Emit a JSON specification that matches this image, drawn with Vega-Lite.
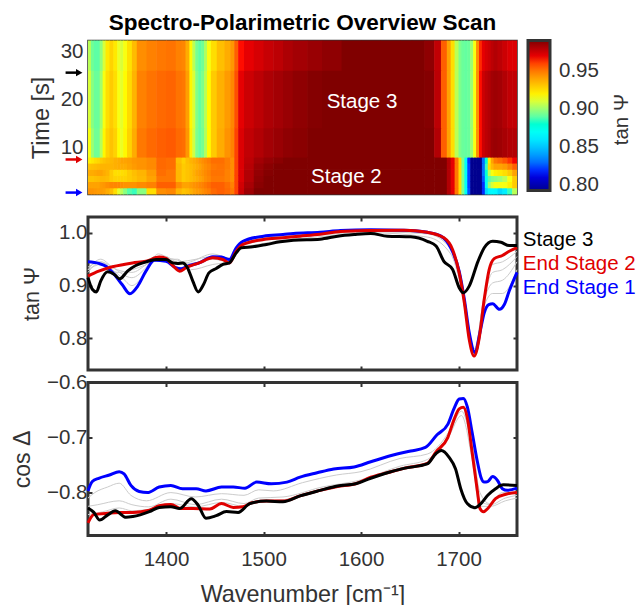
{"$schema":"https://vega.github.io/schema/vega-lite/v6.json","padding":{"left":9,"top":10.5,"right":0,"bottom":0},"spacing":-2.5,"config":{"font":"Liberation Sans","view":{"stroke":"#333","strokeWidth":3},"axis":{"grid":false,"domain":false,"labelFontSize":20.5,"titleFontSize":20,"labelColor":"#333","titleColor":"#333","tickColor":"#333","tickWidth":2,"tickSize":-4,"titleFontWeight":"normal","labelPadding":5}},
"datasets":{
"cols":[{"w":1320,"w2":1323.6},{"w":1323,"w2":1326.6},{"w":1326,"w2":1329.6},{"w":1329,"w2":1332.6},{"w":1332,"w2":1335.6},{"w":1335,"w2":1338.6},{"w":1338,"w2":1342.6},{"w":1342,"w2":1346.6},{"w":1346,"w2":1350.6},{"w":1350,"w2":1353.6},{"w":1353,"w2":1356.6},{"w":1356,"w2":1360.6},{"w":1360,"w2":1365.6},{"w":1365,"w2":1370.6},{"w":1370,"w2":1380.6},{"w":1380,"w2":1390.6},{"w":1390,"w2":1400.6},{"w":1400,"w2":1410.6},{"w":1410,"w2":1416.6},{"w":1416,"w2":1420.6},{"w":1420,"w2":1424.6},{"w":1424,"w2":1427.6},{"w":1427,"w2":1430.6},{"w":1430,"w2":1433.6},{"w":1433,"w2":1436.6},{"w":1436,"w2":1439.6},{"w":1439,"w2":1442.6},{"w":1442,"w2":1446.6},{"w":1446,"w2":1452.6},{"w":1452,"w2":1460.6},{"w":1460,"w2":1466.6},{"w":1466,"w2":1470.6},{"w":1470,"w2":1474.6},{"w":1474,"w2":1480.6},{"w":1480,"w2":1490.6},{"w":1490,"w2":1500.6},{"w":1500,"w2":1510.6},{"w":1510,"w2":1520.6},{"w":1520,"w2":1530.6},{"w":1530,"w2":1545.6},{"w":1545,"w2":1560.6},{"w":1560,"w2":1580.6},{"w":1580,"w2":1600.6},{"w":1600,"w2":1620.6},{"w":1620,"w2":1640.6},{"w":1640,"w2":1652.6},{"w":1652,"w2":1665.6},{"w":1665,"w2":1675.6},{"w":1675,"w2":1682.6},{"w":1682,"w2":1688.6},{"w":1688,"w2":1692.6},{"w":1692,"w2":1696.6},{"w":1696,"w2":1700.6},{"w":1700,"w2":1703.6},{"w":1703,"w2":1706.6},{"w":1706,"w2":1709.6},{"w":1709,"w2":1712.6},{"w":1712,"w2":1715.6},{"w":1715,"w2":1718.6},{"w":1718,"w2":1721.6},{"w":1721,"w2":1724.6},{"w":1724,"w2":1727.6},{"w":1727,"w2":1730.6},{"w":1730,"w2":1733.6},{"w":1733,"w2":1736.6},{"w":1736,"w2":1740.6},{"w":1740,"w2":1745.6},{"w":1745,"w2":1750.6},{"w":1750,"w2":1755.6},{"w":1755,"w2":1760}],
"rows":[{"t":0.2,"t2":1.65},{"t":1.5,"t2":2.95},{"t":2.8,"t2":4.2},{"t":4.05,"t2":5.5},{"t":5.35,"t2":6.8},{"t":6.65,"t2":8.05},{"t":7.9,"t2":14.15},{"t":14,"t2":26.15},{"t":26,"t2":32.3}],
"heat":[
{"w":1320,"t":0.2,"v":0.944},{"w":1323,"t":0.2,"v":0.944},{"w":1326,"t":0.2,"v":0.943},{"w":1329,"t":0.2,"v":0.942},{"w":1332,"t":0.2,"v":0.942},{"w":1335,"t":0.2,"v":0.941},{"w":1338,"t":0.2,"v":0.938},{"w":1342,"t":0.2,"v":0.934},{"w":1346,"t":0.2,"v":0.925},{"w":1350,"t":0.2,"v":0.912},{"w":1353,"t":0.2,"v":0.905},{"w":1356,"t":0.2,"v":0.897},{"w":1360,"t":0.2,"v":0.889},{"w":1365,"t":0.2,"v":0.885},{"w":1370,"t":0.2,"v":0.897},{"w":1380,"t":0.2,"v":0.925},{"w":1390,"t":0.2,"v":0.945},{"w":1400,"t":0.2,"v":0.947},{"w":1410,"t":0.2,"v":0.936},{"w":1416,"t":0.2,"v":0.932},{"w":1420,"t":0.2,"v":0.934},{"w":1424,"t":0.2,"v":0.937},{"w":1427,"t":0.2,"v":0.94},{"w":1430,"t":0.2,"v":0.942},{"w":1433,"t":0.2,"v":0.943},{"w":1436,"t":0.2,"v":0.945},{"w":1439,"t":0.2,"v":0.947},{"w":1442,"t":0.2,"v":0.949},{"w":1446,"t":0.2,"v":0.953},{"w":1452,"t":0.2,"v":0.955},{"w":1460,"t":0.2,"v":0.953},{"w":1466,"t":0.2,"v":0.95},{"w":1470,"t":0.2,"v":0.96},{"w":1474,"t":0.2,"v":0.975},{"w":1480,"t":0.2,"v":0.984},{"w":1490,"t":0.2,"v":0.99},{"w":1500,"t":0.2,"v":0.992},{"w":1510,"t":0.2,"v":0.994},{"w":1520,"t":0.2,"v":0.995},{"w":1530,"t":0.2,"v":0.996},{"w":1545,"t":0.2,"v":0.998},{"w":1560,"t":0.2,"v":1},{"w":1580,"t":0.2,"v":1},{"w":1600,"t":0.2,"v":1},{"w":1620,"t":0.2,"v":1},{"w":1640,"t":0.2,"v":1},{"w":1652,"t":0.2,"v":1},{"w":1665,"t":0.2,"v":1},{"w":1675,"t":0.2,"v":0.998},{"w":1682,"t":0.2,"v":0.993},{"w":1688,"t":0.2,"v":0.98},{"w":1692,"t":0.2,"v":0.97},{"w":1696,"t":0.2,"v":0.95},{"w":1700,"t":0.2,"v":0.925},{"w":1703,"t":0.2,"v":0.895},{"w":1706,"t":0.2,"v":0.87},{"w":1709,"t":0.2,"v":0.825},{"w":1712,"t":0.2,"v":0.79},{"w":1715,"t":0.2,"v":0.78},{"w":1718,"t":0.2,"v":0.78},{"w":1721,"t":0.2,"v":0.79},{"w":1724,"t":0.2,"v":0.82},{"w":1727,"t":0.2,"v":0.855},{"w":1730,"t":0.2,"v":0.865},{"w":1733,"t":0.2,"v":0.866},{"w":1736,"t":0.2,"v":0.865},{"w":1740,"t":0.2,"v":0.856},{"w":1745,"t":0.2,"v":0.862},{"w":1750,"t":0.2,"v":0.885},{"w":1755,"t":0.2,"v":0.905},
{"w":1320,"t":1.5,"v":0.94},{"w":1323,"t":1.5,"v":0.94},{"w":1326,"t":1.5,"v":0.94},{"w":1329,"t":1.5,"v":0.94},{"w":1332,"t":1.5,"v":0.942},{"w":1335,"t":1.5,"v":0.943},{"w":1338,"t":1.5,"v":0.945},{"w":1342,"t":1.5,"v":0.947},{"w":1346,"t":1.5,"v":0.947},{"w":1350,"t":1.5,"v":0.947},{"w":1353,"t":1.5,"v":0.945},{"w":1356,"t":1.5,"v":0.944},{"w":1360,"t":1.5,"v":0.944},{"w":1365,"t":1.5,"v":0.944},{"w":1370,"t":1.5,"v":0.946},{"w":1380,"t":1.5,"v":0.948},{"w":1390,"t":1.5,"v":0.955},{"w":1400,"t":1.5,"v":0.955},{"w":1410,"t":1.5,"v":0.945},{"w":1416,"t":1.5,"v":0.94},{"w":1420,"t":1.5,"v":0.94},{"w":1424,"t":1.5,"v":0.942},{"w":1427,"t":1.5,"v":0.944},{"w":1430,"t":1.5,"v":0.945},{"w":1433,"t":1.5,"v":0.947},{"w":1436,"t":1.5,"v":0.948},{"w":1439,"t":1.5,"v":0.95},{"w":1442,"t":1.5,"v":0.952},{"w":1446,"t":1.5,"v":0.955},{"w":1452,"t":1.5,"v":0.955},{"w":1460,"t":1.5,"v":0.952},{"w":1466,"t":1.5,"v":0.948},{"w":1470,"t":1.5,"v":0.96},{"w":1474,"t":1.5,"v":0.974},{"w":1480,"t":1.5,"v":0.982},{"w":1490,"t":1.5,"v":0.988},{"w":1500,"t":1.5,"v":0.991},{"w":1510,"t":1.5,"v":0.993},{"w":1520,"t":1.5,"v":0.994},{"w":1530,"t":1.5,"v":0.995},{"w":1545,"t":1.5,"v":0.997},{"w":1560,"t":1.5,"v":0.999},{"w":1580,"t":1.5,"v":1},{"w":1600,"t":1.5,"v":1},{"w":1620,"t":1.5,"v":1},{"w":1640,"t":1.5,"v":1},{"w":1652,"t":1.5,"v":1},{"w":1665,"t":1.5,"v":1},{"w":1675,"t":1.5,"v":0.998},{"w":1682,"t":1.5,"v":0.993},{"w":1688,"t":1.5,"v":0.98},{"w":1692,"t":1.5,"v":0.97},{"w":1696,"t":1.5,"v":0.95},{"w":1700,"t":1.5,"v":0.925},{"w":1703,"t":1.5,"v":0.895},{"w":1706,"t":1.5,"v":0.87},{"w":1709,"t":1.5,"v":0.822},{"w":1712,"t":1.5,"v":0.79},{"w":1715,"t":1.5,"v":0.78},{"w":1718,"t":1.5,"v":0.78},{"w":1721,"t":1.5,"v":0.79},{"w":1724,"t":1.5,"v":0.82},{"w":1727,"t":1.5,"v":0.87},{"w":1730,"t":1.5,"v":0.9},{"w":1733,"t":1.5,"v":0.91},{"w":1736,"t":1.5,"v":0.915},{"w":1740,"t":1.5,"v":0.915},{"w":1745,"t":1.5,"v":0.915},{"w":1750,"t":1.5,"v":0.92},{"w":1755,"t":1.5,"v":0.93},
{"w":1320,"t":2.8,"v":0.932},{"w":1323,"t":2.8,"v":0.932},{"w":1326,"t":2.8,"v":0.933},{"w":1329,"t":2.8,"v":0.934},{"w":1332,"t":2.8,"v":0.935},{"w":1335,"t":2.8,"v":0.935},{"w":1338,"t":2.8,"v":0.934},{"w":1342,"t":2.8,"v":0.93},{"w":1346,"t":2.8,"v":0.928},{"w":1350,"t":2.8,"v":0.928},{"w":1353,"t":2.8,"v":0.928},{"w":1356,"t":2.8,"v":0.928},{"w":1360,"t":2.8,"v":0.93},{"w":1365,"t":2.8,"v":0.932},{"w":1370,"t":2.8,"v":0.935},{"w":1380,"t":2.8,"v":0.94},{"w":1390,"t":2.8,"v":0.95},{"w":1400,"t":2.8,"v":0.95},{"w":1410,"t":2.8,"v":0.935},{"w":1416,"t":2.8,"v":0.93},{"w":1420,"t":2.8,"v":0.932},{"w":1424,"t":2.8,"v":0.934},{"w":1427,"t":2.8,"v":0.936},{"w":1430,"t":2.8,"v":0.938},{"w":1433,"t":2.8,"v":0.94},{"w":1436,"t":2.8,"v":0.942},{"w":1439,"t":2.8,"v":0.945},{"w":1442,"t":2.8,"v":0.947},{"w":1446,"t":2.8,"v":0.95},{"w":1452,"t":2.8,"v":0.95},{"w":1460,"t":2.8,"v":0.948},{"w":1466,"t":2.8,"v":0.945},{"w":1470,"t":2.8,"v":0.96},{"w":1474,"t":2.8,"v":0.972},{"w":1480,"t":2.8,"v":0.98},{"w":1490,"t":2.8,"v":0.987},{"w":1500,"t":2.8,"v":0.99},{"w":1510,"t":2.8,"v":0.992},{"w":1520,"t":2.8,"v":0.994},{"w":1530,"t":2.8,"v":0.995},{"w":1545,"t":2.8,"v":0.997},{"w":1560,"t":2.8,"v":0.998},{"w":1580,"t":2.8,"v":1},{"w":1600,"t":2.8,"v":1},{"w":1620,"t":2.8,"v":1},{"w":1640,"t":2.8,"v":1},{"w":1652,"t":2.8,"v":1},{"w":1665,"t":2.8,"v":1},{"w":1675,"t":2.8,"v":0.998},{"w":1682,"t":2.8,"v":0.993},{"w":1688,"t":2.8,"v":0.98},{"w":1692,"t":2.8,"v":0.97},{"w":1696,"t":2.8,"v":0.95},{"w":1700,"t":2.8,"v":0.925},{"w":1703,"t":2.8,"v":0.895},{"w":1706,"t":2.8,"v":0.87},{"w":1709,"t":2.8,"v":0.822},{"w":1712,"t":2.8,"v":0.79},{"w":1715,"t":2.8,"v":0.78},{"w":1718,"t":2.8,"v":0.78},{"w":1721,"t":2.8,"v":0.79},{"w":1724,"t":2.8,"v":0.825},{"w":1727,"t":2.8,"v":0.872},{"w":1730,"t":2.8,"v":0.89},{"w":1733,"t":2.8,"v":0.895},{"w":1736,"t":2.8,"v":0.897},{"w":1740,"t":2.8,"v":0.9},{"w":1745,"t":2.8,"v":0.905},{"w":1750,"t":2.8,"v":0.915},{"w":1755,"t":2.8,"v":0.93},
{"w":1320,"t":4.05,"v":0.938},{"w":1323,"t":4.05,"v":0.938},{"w":1326,"t":4.05,"v":0.939},{"w":1329,"t":4.05,"v":0.94},{"w":1332,"t":4.05,"v":0.94},{"w":1335,"t":4.05,"v":0.938},{"w":1338,"t":4.05,"v":0.936},{"w":1342,"t":4.05,"v":0.93},{"w":1346,"t":4.05,"v":0.925},{"w":1350,"t":4.05,"v":0.925},{"w":1353,"t":4.05,"v":0.925},{"w":1356,"t":4.05,"v":0.926},{"w":1360,"t":4.05,"v":0.93},{"w":1365,"t":4.05,"v":0.933},{"w":1370,"t":4.05,"v":0.936},{"w":1380,"t":4.05,"v":0.942},{"w":1390,"t":4.05,"v":0.952},{"w":1400,"t":4.05,"v":0.95},{"w":1410,"t":4.05,"v":0.935},{"w":1416,"t":4.05,"v":0.93},{"w":1420,"t":4.05,"v":0.932},{"w":1424,"t":4.05,"v":0.934},{"w":1427,"t":4.05,"v":0.937},{"w":1430,"t":4.05,"v":0.94},{"w":1433,"t":4.05,"v":0.942},{"w":1436,"t":4.05,"v":0.944},{"w":1439,"t":4.05,"v":0.946},{"w":1442,"t":4.05,"v":0.948},{"w":1446,"t":4.05,"v":0.951},{"w":1452,"t":4.05,"v":0.951},{"w":1460,"t":4.05,"v":0.948},{"w":1466,"t":4.05,"v":0.945},{"w":1470,"t":4.05,"v":0.96},{"w":1474,"t":4.05,"v":0.972},{"w":1480,"t":4.05,"v":0.98},{"w":1490,"t":4.05,"v":0.986},{"w":1500,"t":4.05,"v":0.989},{"w":1510,"t":4.05,"v":0.991},{"w":1520,"t":4.05,"v":0.993},{"w":1530,"t":4.05,"v":0.994},{"w":1545,"t":4.05,"v":0.996},{"w":1560,"t":4.05,"v":0.998},{"w":1580,"t":4.05,"v":1},{"w":1600,"t":4.05,"v":1},{"w":1620,"t":4.05,"v":1},{"w":1640,"t":4.05,"v":1},{"w":1652,"t":4.05,"v":1},{"w":1665,"t":4.05,"v":1},{"w":1675,"t":4.05,"v":0.998},{"w":1682,"t":4.05,"v":0.993},{"w":1688,"t":4.05,"v":0.98},{"w":1692,"t":4.05,"v":0.97},{"w":1696,"t":4.05,"v":0.95},{"w":1700,"t":4.05,"v":0.925},{"w":1703,"t":4.05,"v":0.895},{"w":1706,"t":4.05,"v":0.87},{"w":1709,"t":4.05,"v":0.822},{"w":1712,"t":4.05,"v":0.79},{"w":1715,"t":4.05,"v":0.78},{"w":1718,"t":4.05,"v":0.78},{"w":1721,"t":4.05,"v":0.79},{"w":1724,"t":4.05,"v":0.83},{"w":1727,"t":4.05,"v":0.88},{"w":1730,"t":4.05,"v":0.905},{"w":1733,"t":4.05,"v":0.915},{"w":1736,"t":4.05,"v":0.92},{"w":1740,"t":4.05,"v":0.922},{"w":1745,"t":4.05,"v":0.925},{"w":1750,"t":4.05,"v":0.93},{"w":1755,"t":4.05,"v":0.94},
{"w":1320,"t":5.35,"v":0.932},{"w":1323,"t":5.35,"v":0.933},{"w":1326,"t":5.35,"v":0.934},{"w":1329,"t":5.35,"v":0.935},{"w":1332,"t":5.35,"v":0.936},{"w":1335,"t":5.35,"v":0.936},{"w":1338,"t":5.35,"v":0.936},{"w":1342,"t":5.35,"v":0.936},{"w":1346,"t":5.35,"v":0.937},{"w":1350,"t":5.35,"v":0.938},{"w":1353,"t":5.35,"v":0.938},{"w":1356,"t":5.35,"v":0.938},{"w":1360,"t":5.35,"v":0.94},{"w":1365,"t":5.35,"v":0.942},{"w":1370,"t":5.35,"v":0.944},{"w":1380,"t":5.35,"v":0.946},{"w":1390,"t":5.35,"v":0.953},{"w":1400,"t":5.35,"v":0.952},{"w":1410,"t":5.35,"v":0.935},{"w":1416,"t":5.35,"v":0.93},{"w":1420,"t":5.35,"v":0.932},{"w":1424,"t":5.35,"v":0.934},{"w":1427,"t":5.35,"v":0.936},{"w":1430,"t":5.35,"v":0.938},{"w":1433,"t":5.35,"v":0.94},{"w":1436,"t":5.35,"v":0.943},{"w":1439,"t":5.35,"v":0.945},{"w":1442,"t":5.35,"v":0.947},{"w":1446,"t":5.35,"v":0.95},{"w":1452,"t":5.35,"v":0.951},{"w":1460,"t":5.35,"v":0.949},{"w":1466,"t":5.35,"v":0.945},{"w":1470,"t":5.35,"v":0.96},{"w":1474,"t":5.35,"v":0.972},{"w":1480,"t":5.35,"v":0.979},{"w":1490,"t":5.35,"v":0.985},{"w":1500,"t":5.35,"v":0.988},{"w":1510,"t":5.35,"v":0.99},{"w":1520,"t":5.35,"v":0.992},{"w":1530,"t":5.35,"v":0.993},{"w":1545,"t":5.35,"v":0.995},{"w":1560,"t":5.35,"v":0.997},{"w":1580,"t":5.35,"v":1},{"w":1600,"t":5.35,"v":1},{"w":1620,"t":5.35,"v":1},{"w":1640,"t":5.35,"v":1},{"w":1652,"t":5.35,"v":1},{"w":1665,"t":5.35,"v":1},{"w":1675,"t":5.35,"v":0.998},{"w":1682,"t":5.35,"v":0.993},{"w":1688,"t":5.35,"v":0.98},{"w":1692,"t":5.35,"v":0.97},{"w":1696,"t":5.35,"v":0.95},{"w":1700,"t":5.35,"v":0.925},{"w":1703,"t":5.35,"v":0.895},{"w":1706,"t":5.35,"v":0.87},{"w":1709,"t":5.35,"v":0.822},{"w":1712,"t":5.35,"v":0.79},{"w":1715,"t":5.35,"v":0.78},{"w":1718,"t":5.35,"v":0.78},{"w":1721,"t":5.35,"v":0.79},{"w":1724,"t":5.35,"v":0.83},{"w":1727,"t":5.35,"v":0.885},{"w":1730,"t":5.35,"v":0.925},{"w":1733,"t":5.35,"v":0.935},{"w":1736,"t":5.35,"v":0.94},{"w":1740,"t":5.35,"v":0.94},{"w":1745,"t":5.35,"v":0.942},{"w":1750,"t":5.35,"v":0.948},{"w":1755,"t":5.35,"v":0.955},
{"w":1320,"t":6.65,"v":0.92},{"w":1323,"t":6.65,"v":0.922},{"w":1326,"t":6.65,"v":0.925},{"w":1329,"t":6.65,"v":0.927},{"w":1332,"t":6.65,"v":0.93},{"w":1335,"t":6.65,"v":0.932},{"w":1338,"t":6.65,"v":0.934},{"w":1342,"t":6.65,"v":0.935},{"w":1346,"t":6.65,"v":0.937},{"w":1350,"t":6.65,"v":0.938},{"w":1353,"t":6.65,"v":0.94},{"w":1356,"t":6.65,"v":0.94},{"w":1360,"t":6.65,"v":0.941},{"w":1365,"t":6.65,"v":0.943},{"w":1370,"t":6.65,"v":0.944},{"w":1380,"t":6.65,"v":0.946},{"w":1390,"t":6.65,"v":0.953},{"w":1400,"t":6.65,"v":0.952},{"w":1410,"t":6.65,"v":0.933},{"w":1416,"t":6.65,"v":0.928},{"w":1420,"t":6.65,"v":0.933},{"w":1424,"t":6.65,"v":0.936},{"w":1427,"t":6.65,"v":0.938},{"w":1430,"t":6.65,"v":0.94},{"w":1433,"t":6.65,"v":0.943},{"w":1436,"t":6.65,"v":0.945},{"w":1439,"t":6.65,"v":0.947},{"w":1442,"t":6.65,"v":0.949},{"w":1446,"t":6.65,"v":0.952},{"w":1452,"t":6.65,"v":0.952},{"w":1460,"t":6.65,"v":0.949},{"w":1466,"t":6.65,"v":0.945},{"w":1470,"t":6.65,"v":0.96},{"w":1474,"t":6.65,"v":0.972},{"w":1480,"t":6.65,"v":0.978},{"w":1490,"t":6.65,"v":0.983},{"w":1500,"t":6.65,"v":0.986},{"w":1510,"t":6.65,"v":0.988},{"w":1520,"t":6.65,"v":0.99},{"w":1530,"t":6.65,"v":0.992},{"w":1545,"t":6.65,"v":0.994},{"w":1560,"t":6.65,"v":0.996},{"w":1580,"t":6.65,"v":1},{"w":1600,"t":6.65,"v":1},{"w":1620,"t":6.65,"v":1},{"w":1640,"t":6.65,"v":1},{"w":1652,"t":6.65,"v":1},{"w":1665,"t":6.65,"v":1},{"w":1675,"t":6.65,"v":0.998},{"w":1682,"t":6.65,"v":0.993},{"w":1688,"t":6.65,"v":0.98},{"w":1692,"t":6.65,"v":0.97},{"w":1696,"t":6.65,"v":0.95},{"w":1700,"t":6.65,"v":0.925},{"w":1703,"t":6.65,"v":0.895},{"w":1706,"t":6.65,"v":0.868},{"w":1709,"t":6.65,"v":0.82},{"w":1712,"t":6.65,"v":0.785},{"w":1715,"t":6.65,"v":0.77},{"w":1718,"t":6.65,"v":0.77},{"w":1721,"t":6.65,"v":0.785},{"w":1724,"t":6.65,"v":0.83},{"w":1727,"t":6.65,"v":0.88},{"w":1730,"t":6.65,"v":0.92},{"w":1733,"t":6.65,"v":0.94},{"w":1736,"t":6.65,"v":0.95},{"w":1740,"t":6.65,"v":0.953},{"w":1745,"t":6.65,"v":0.957},{"w":1750,"t":6.65,"v":0.962},{"w":1755,"t":6.65,"v":0.968},
{"w":1320,"t":7.9,"v":0.915},{"w":1323,"t":7.9,"v":0.9},{"w":1326,"t":7.9,"v":0.893},{"w":1329,"t":7.9,"v":0.893},{"w":1332,"t":7.9,"v":0.904},{"w":1335,"t":7.9,"v":0.918},{"w":1338,"t":7.9,"v":0.928},{"w":1342,"t":7.9,"v":0.932},{"w":1346,"t":7.9,"v":0.928},{"w":1350,"t":7.9,"v":0.917},{"w":1353,"t":7.9,"v":0.913},{"w":1356,"t":7.9,"v":0.918},{"w":1360,"t":7.9,"v":0.928},{"w":1365,"t":7.9,"v":0.938},{"w":1370,"t":7.9,"v":0.95},{"w":1380,"t":7.9,"v":0.953},{"w":1390,"t":7.9,"v":0.955},{"w":1400,"t":7.9,"v":0.956},{"w":1410,"t":7.9,"v":0.953},{"w":1416,"t":7.9,"v":0.952},{"w":1420,"t":7.9,"v":0.943},{"w":1424,"t":7.9,"v":0.92},{"w":1427,"t":7.9,"v":0.908},{"w":1430,"t":7.9,"v":0.895},{"w":1433,"t":7.9,"v":0.891},{"w":1436,"t":7.9,"v":0.894},{"w":1439,"t":7.9,"v":0.904},{"w":1442,"t":7.9,"v":0.917},{"w":1446,"t":7.9,"v":0.93},{"w":1452,"t":7.9,"v":0.938},{"w":1460,"t":7.9,"v":0.944},{"w":1466,"t":7.9,"v":0.948},{"w":1470,"t":7.9,"v":0.96},{"w":1474,"t":7.9,"v":0.972},{"w":1480,"t":7.9,"v":0.977},{"w":1490,"t":7.9,"v":0.98},{"w":1500,"t":7.9,"v":0.983},{"w":1510,"t":7.9,"v":0.985},{"w":1520,"t":7.9,"v":0.987},{"w":1530,"t":7.9,"v":0.988},{"w":1545,"t":7.9,"v":0.99},{"w":1560,"t":7.9,"v":0.991},{"w":1580,"t":7.9,"v":0.994},{"w":1600,"t":7.9,"v":0.996},{"w":1620,"t":7.9,"v":0.996},{"w":1640,"t":7.9,"v":0.996},{"w":1652,"t":7.9,"v":0.994},{"w":1665,"t":7.9,"v":0.99},{"w":1675,"t":7.9,"v":0.98},{"w":1682,"t":7.9,"v":0.955},{"w":1688,"t":7.9,"v":0.94},{"w":1692,"t":7.9,"v":0.925},{"w":1696,"t":7.9,"v":0.905},{"w":1700,"t":7.9,"v":0.895},{"w":1703,"t":7.9,"v":0.892},{"w":1706,"t":7.9,"v":0.891},{"w":1709,"t":7.9,"v":0.892},{"w":1712,"t":7.9,"v":0.9},{"w":1715,"t":7.9,"v":0.915},{"w":1718,"t":7.9,"v":0.945},{"w":1721,"t":7.9,"v":0.965},{"w":1724,"t":7.9,"v":0.975},{"w":1727,"t":7.9,"v":0.978},{"w":1730,"t":7.9,"v":0.98},{"w":1733,"t":7.9,"v":0.984},{"w":1736,"t":7.9,"v":0.985},{"w":1740,"t":7.9,"v":0.984},{"w":1745,"t":7.9,"v":0.982},{"w":1750,"t":7.9,"v":0.98},{"w":1755,"t":7.9,"v":0.98},
{"w":1320,"t":14,"v":0.91},{"w":1323,"t":14,"v":0.897},{"w":1326,"t":14,"v":0.892},{"w":1329,"t":14,"v":0.892},{"w":1332,"t":14,"v":0.901},{"w":1335,"t":14,"v":0.915},{"w":1338,"t":14,"v":0.925},{"w":1342,"t":14,"v":0.93},{"w":1346,"t":14,"v":0.925},{"w":1350,"t":14,"v":0.915},{"w":1353,"t":14,"v":0.912},{"w":1356,"t":14,"v":0.917},{"w":1360,"t":14,"v":0.926},{"w":1365,"t":14,"v":0.936},{"w":1370,"t":14,"v":0.948},{"w":1380,"t":14,"v":0.951},{"w":1390,"t":14,"v":0.953},{"w":1400,"t":14,"v":0.954},{"w":1410,"t":14,"v":0.951},{"w":1416,"t":14,"v":0.95},{"w":1420,"t":14,"v":0.941},{"w":1424,"t":14,"v":0.918},{"w":1427,"t":14,"v":0.91},{"w":1430,"t":14,"v":0.896},{"w":1433,"t":14,"v":0.891},{"w":1436,"t":14,"v":0.895},{"w":1439,"t":14,"v":0.905},{"w":1442,"t":14,"v":0.917},{"w":1446,"t":14,"v":0.93},{"w":1452,"t":14,"v":0.937},{"w":1460,"t":14,"v":0.942},{"w":1466,"t":14,"v":0.947},{"w":1470,"t":14,"v":0.958},{"w":1474,"t":14,"v":0.97},{"w":1480,"t":14,"v":0.975},{"w":1490,"t":14,"v":0.978},{"w":1500,"t":14,"v":0.981},{"w":1510,"t":14,"v":0.983},{"w":1520,"t":14,"v":0.985},{"w":1530,"t":14,"v":0.987},{"w":1545,"t":14,"v":0.989},{"w":1560,"t":14,"v":0.99},{"w":1580,"t":14,"v":0.993},{"w":1600,"t":14,"v":0.995},{"w":1620,"t":14,"v":0.995},{"w":1640,"t":14,"v":0.995},{"w":1652,"t":14,"v":0.993},{"w":1665,"t":14,"v":0.989},{"w":1675,"t":14,"v":0.978},{"w":1682,"t":14,"v":0.955},{"w":1688,"t":14,"v":0.94},{"w":1692,"t":14,"v":0.925},{"w":1696,"t":14,"v":0.905},{"w":1700,"t":14,"v":0.895},{"w":1703,"t":14,"v":0.892},{"w":1706,"t":14,"v":0.891},{"w":1709,"t":14,"v":0.892},{"w":1712,"t":14,"v":0.9},{"w":1715,"t":14,"v":0.915},{"w":1718,"t":14,"v":0.945},{"w":1721,"t":14,"v":0.965},{"w":1724,"t":14,"v":0.975},{"w":1727,"t":14,"v":0.978},{"w":1730,"t":14,"v":0.98},{"w":1733,"t":14,"v":0.983},{"w":1736,"t":14,"v":0.984},{"w":1740,"t":14,"v":0.983},{"w":1745,"t":14,"v":0.98},{"w":1750,"t":14,"v":0.977},{"w":1755,"t":14,"v":0.977},
{"w":1320,"t":26,"v":0.905},{"w":1323,"t":26,"v":0.893},{"w":1326,"t":26,"v":0.89},{"w":1329,"t":26,"v":0.89},{"w":1332,"t":26,"v":0.898},{"w":1335,"t":26,"v":0.91},{"w":1338,"t":26,"v":0.922},{"w":1342,"t":26,"v":0.928},{"w":1346,"t":26,"v":0.922},{"w":1350,"t":26,"v":0.913},{"w":1353,"t":26,"v":0.91},{"w":1356,"t":26,"v":0.915},{"w":1360,"t":26,"v":0.924},{"w":1365,"t":26,"v":0.934},{"w":1370,"t":26,"v":0.945},{"w":1380,"t":26,"v":0.948},{"w":1390,"t":26,"v":0.95},{"w":1400,"t":26,"v":0.951},{"w":1410,"t":26,"v":0.948},{"w":1416,"t":26,"v":0.947},{"w":1420,"t":26,"v":0.938},{"w":1424,"t":26,"v":0.917},{"w":1427,"t":26,"v":0.905},{"w":1430,"t":26,"v":0.894},{"w":1433,"t":26,"v":0.89},{"w":1436,"t":26,"v":0.893},{"w":1439,"t":26,"v":0.903},{"w":1442,"t":26,"v":0.915},{"w":1446,"t":26,"v":0.925},{"w":1452,"t":26,"v":0.933},{"w":1460,"t":26,"v":0.938},{"w":1466,"t":26,"v":0.943},{"w":1470,"t":26,"v":0.955},{"w":1474,"t":26,"v":0.965},{"w":1480,"t":26,"v":0.97},{"w":1490,"t":26,"v":0.973},{"w":1500,"t":26,"v":0.976},{"w":1510,"t":26,"v":0.978},{"w":1520,"t":26,"v":0.981},{"w":1530,"t":26,"v":0.983},{"w":1545,"t":26,"v":0.985},{"w":1560,"t":26,"v":0.987},{"w":1580,"t":26,"v":0.99},{"w":1600,"t":26,"v":0.994},{"w":1620,"t":26,"v":0.994},{"w":1640,"t":26,"v":0.994},{"w":1652,"t":26,"v":0.992},{"w":1665,"t":26,"v":0.987},{"w":1675,"t":26,"v":0.977},{"w":1682,"t":26,"v":0.955},{"w":1688,"t":26,"v":0.94},{"w":1692,"t":26,"v":0.925},{"w":1696,"t":26,"v":0.905},{"w":1700,"t":26,"v":0.895},{"w":1703,"t":26,"v":0.892},{"w":1706,"t":26,"v":0.891},{"w":1709,"t":26,"v":0.892},{"w":1712,"t":26,"v":0.9},{"w":1715,"t":26,"v":0.915},{"w":1718,"t":26,"v":0.945},{"w":1721,"t":26,"v":0.963},{"w":1724,"t":26,"v":0.97},{"w":1727,"t":26,"v":0.973},{"w":1730,"t":26,"v":0.975},{"w":1733,"t":26,"v":0.978},{"w":1736,"t":26,"v":0.98},{"w":1740,"t":26,"v":0.978},{"w":1745,"t":26,"v":0.975},{"w":1750,"t":26,"v":0.972},{"w":1755,"t":26,"v":0.972}
],
"arrows":[{"s":"Stage 3","w":1297,"w2":1311,"t":25.6},{"s":"End Stage 2","w":1297,"w2":1311,"t":7.5},{"s":"End Stage 1","w":1297,"w2":1311,"t":0.6}],
"notes":[{"w":1601,"t":19.4,"n":"Stage 3"},{"w":1585,"t":3.75,"n":"Stage 2"}],
"barTitle":[{"w":1868,"t":15.8,"n":"tan Ψ"}],
"keys":[{"s":"Stage 3","w":1766,"v":0.986},{"s":"End Stage 2","w":1766,"v":0.9405},{"s":"End Stage 1","w":1766,"v":0.895}],
"psiMain":[
{"s":"End Stage 1","w":1320,"v":0.945},{"s":"End Stage 1","w":1331,"v":0.942},{"s":"End Stage 1","w":1338,"v":0.937},{"s":"End Stage 1","w":1347,"v":0.921},{"s":"End Stage 1","w":1355,"v":0.902},{"s":"End Stage 1","w":1363,"v":0.8845},{"s":"End Stage 1","w":1371,"v":0.899},{"s":"End Stage 1","w":1379.4,"v":0.9274},{"s":"End Stage 1","w":1388,"v":0.948},{"s":"End Stage 1","w":1400,"v":0.946},{"s":"End Stage 1","w":1410,"v":0.934},{"s":"End Stage 1","w":1415.5,"v":0.932},{"s":"End Stage 1","w":1424,"v":0.938},{"s":"End Stage 1","w":1434,"v":0.943},{"s":"End Stage 1","w":1448,"v":0.9546},{"s":"End Stage 1","w":1457,"v":0.954},{"s":"End Stage 1","w":1465,"v":0.9495},{"s":"End Stage 1","w":1472,"v":0.9716},{"s":"End Stage 1","w":1479,"v":0.984},{"s":"End Stage 1","w":1500,"v":0.9937},{"s":"End Stage 1","w":1520,"v":0.9968},{"s":"End Stage 1","w":1530.6,"v":0.9987},{"s":"End Stage 1","w":1558,"v":1.001},{"s":"End Stage 1","w":1579,"v":1.0044},{"s":"End Stage 1","w":1610,"v":1.006},{"s":"End Stage 1","w":1644,"v":1.005},{"s":"End Stage 1","w":1668,"v":1.001},{"s":"End Stage 1","w":1682,"v":0.9937},{"s":"End Stage 1","w":1692,"v":0.9716},{"s":"End Stage 1","w":1700.7,"v":0.927},{"s":"End Stage 1","w":1706,"v":0.874},{"s":"End Stage 1","w":1711,"v":0.811},{"s":"End Stage 1","w":1717,"v":0.7729},{"s":"End Stage 1","w":1722,"v":0.811},{"s":"End Stage 1","w":1726.4,"v":0.8486},{"s":"End Stage 1","w":1731,"v":0.864},{"s":"End Stage 1","w":1735,"v":0.8656},{"s":"End Stage 1","w":1742,"v":0.855},{"s":"End Stage 1","w":1747,"v":0.864},{"s":"End Stage 1","w":1752,"v":0.8896},{"s":"End Stage 1","w":1760,"v":0.925},
{"s":"End Stage 2","w":1320,"v":0.918},{"s":"End Stage 2","w":1331,"v":0.9274},{"s":"End Stage 2","w":1345,"v":0.9356},{"s":"End Stage 2","w":1365.6,"v":0.943},{"s":"End Stage 2","w":1379.4,"v":0.946},{"s":"End Stage 2","w":1393,"v":0.954},{"s":"End Stage 2","w":1400,"v":0.9515},{"s":"End Stage 2","w":1407,"v":0.938},{"s":"End Stage 2","w":1414,"v":0.9274},{"s":"End Stage 2","w":1420.6,"v":0.934},{"s":"End Stage 2","w":1434,"v":0.943},{"s":"End Stage 2","w":1448,"v":0.9527},{"s":"End Stage 2","w":1458.4,"v":0.9495},{"s":"End Stage 2","w":1465,"v":0.943},{"s":"End Stage 2","w":1472,"v":0.965},{"s":"End Stage 2","w":1479,"v":0.978},{"s":"End Stage 2","w":1500,"v":0.9874},{"s":"End Stage 2","w":1520,"v":0.9905},{"s":"End Stage 2","w":1537.5,"v":0.9937},{"s":"End Stage 2","w":1558,"v":0.9975},{"s":"End Stage 2","w":1579,"v":1.0025},{"s":"End Stage 2","w":1610,"v":1.0044},{"s":"End Stage 2","w":1644,"v":1.005},{"s":"End Stage 2","w":1668,"v":1.001},{"s":"End Stage 2","w":1685,"v":0.9905},{"s":"End Stage 2","w":1694,"v":0.968},{"s":"End Stage 2","w":1700.7,"v":0.924},{"s":"End Stage 2","w":1706,"v":0.8675},{"s":"End Stage 2","w":1711,"v":0.798},{"s":"End Stage 2","w":1716,"v":0.7666},{"s":"End Stage 2","w":1721,"v":0.798},{"s":"End Stage 2","w":1726.4,"v":0.874},{"s":"End Stage 2","w":1731.5,"v":0.9306},{"s":"End Stage 2","w":1736.6,"v":0.951},{"s":"End Stage 2","w":1745,"v":0.957},{"s":"End Stage 2","w":1752,"v":0.965},{"s":"End Stage 2","w":1760,"v":0.972},
{"s":"Stage 3","w":1320,"v":0.915},{"s":"Stage 3","w":1324.4,"v":0.893},{"s":"Stage 3","w":1328.5,"v":0.888},{"s":"Stage 3","w":1333,"v":0.9085},{"s":"Stage 3","w":1340,"v":0.926},{"s":"Stage 3","w":1347,"v":0.921},{"s":"Stage 3","w":1352.6,"v":0.913},{"s":"Stage 3","w":1360.5,"v":0.9275},{"s":"Stage 3","w":1369,"v":0.938},{"s":"Stage 3","w":1379,"v":0.9445},{"s":"Stage 3","w":1390,"v":0.9495},{"s":"Stage 3","w":1400,"v":0.9495},{"s":"Stage 3","w":1407,"v":0.943},{"s":"Stage 3","w":1412,"v":0.942},{"s":"Stage 3","w":1417,"v":0.943},{"s":"Stage 3","w":1422,"v":0.934},{"s":"Stage 3","w":1427.5,"v":0.9085},{"s":"Stage 3","w":1433,"v":0.888},{"s":"Stage 3","w":1438.5,"v":0.902},{"s":"Stage 3","w":1444,"v":0.924},{"s":"Stage 3","w":1451.5,"v":0.9325},{"s":"Stage 3","w":1458.4,"v":0.94},{"s":"Stage 3","w":1465,"v":0.943},{"s":"Stage 3","w":1472,"v":0.962},{"s":"Stage 3","w":1477,"v":0.9715},{"s":"Stage 3","w":1489,"v":0.9735},{"s":"Stage 3","w":1503,"v":0.978},{"s":"Stage 3","w":1517,"v":0.983},{"s":"Stage 3","w":1530.6,"v":0.986},{"s":"Stage 3","w":1558,"v":0.988},{"s":"Stage 3","w":1576,"v":0.9937},{"s":"Stage 3","w":1593,"v":0.9968},{"s":"Stage 3","w":1610,"v":0.9987},{"s":"Stage 3","w":1627,"v":0.9937},{"s":"Stage 3","w":1651,"v":0.9924},{"s":"Stage 3","w":1668,"v":0.984},{"s":"Stage 3","w":1677,"v":0.975},{"s":"Stage 3","w":1685,"v":0.946},{"s":"Stage 3","w":1694,"v":0.9306},{"s":"Stage 3","w":1700.7,"v":0.896},{"s":"Stage 3","w":1705,"v":0.8864},{"s":"Stage 3","w":1711,"v":0.899},{"s":"Stage 3","w":1720,"v":0.946},{"s":"Stage 3","w":1726.4,"v":0.9716},{"s":"Stage 3","w":1735,"v":0.984},{"s":"Stage 3","w":1743.5,"v":0.982},{"s":"Stage 3","w":1752,"v":0.976},{"s":"Stage 3","w":1760,"v":0.976}],
"psiGray":[
{"s":"g1","w":1320,"v":0.925},{"s":"g1","w":1333,"v":0.945},{"s":"g1","w":1345,"v":0.93},{"s":"g1","w":1355,"v":0.915},{"s":"g1","w":1365,"v":0.9},{"s":"g1","w":1375,"v":0.915},{"s":"g1","w":1388,"v":0.955},{"s":"g1","w":1400,"v":0.955},{"s":"g1","w":1412,"v":0.94},{"s":"g1","w":1425,"v":0.945},{"s":"g1","w":1448,"v":0.96},{"s":"g1","w":1465,"v":0.952},{"s":"g1","w":1478,"v":0.98},{"s":"g1","w":1500,"v":0.99},{"s":"g1","w":1560,"v":0.999},{"s":"g1","w":1610,"v":1.004},{"s":"g1","w":1668,"v":1},{"s":"g1","w":1692,"v":0.975},{"s":"g1","w":1706,"v":0.874},{"s":"g1","w":1716,"v":0.78},{"s":"g1","w":1726,"v":0.86},{"s":"g1","w":1735,"v":0.885},{"s":"g1","w":1745,"v":0.885},{"s":"g1","w":1760,"v":0.93},
{"s":"g2","w":1320,"v":0.93},{"s":"g2","w":1333,"v":0.95},{"s":"g2","w":1345,"v":0.935},{"s":"g2","w":1365,"v":0.915},{"s":"g2","w":1380,"v":0.935},{"s":"g2","w":1392,"v":0.96},{"s":"g2","w":1400,"v":0.955},{"s":"g2","w":1412,"v":0.945},{"s":"g2","w":1425,"v":0.948},{"s":"g2","w":1448,"v":0.955},{"s":"g2","w":1465,"v":0.948},{"s":"g2","w":1478,"v":0.98},{"s":"g2","w":1500,"v":0.99},{"s":"g2","w":1560,"v":0.998},{"s":"g2","w":1610,"v":1.003},{"s":"g2","w":1668,"v":1},{"s":"g2","w":1692,"v":0.975},{"s":"g2","w":1706,"v":0.872},{"s":"g2","w":1716,"v":0.775},{"s":"g2","w":1726,"v":0.87},{"s":"g2","w":1735,"v":0.905},{"s":"g2","w":1745,"v":0.91},{"s":"g2","w":1760,"v":0.945},
{"s":"g3","w":1320,"v":0.935},{"s":"g3","w":1333,"v":0.945},{"s":"g3","w":1350,"v":0.93},{"s":"g3","w":1365,"v":0.925},{"s":"g3","w":1380,"v":0.94},{"s":"g3","w":1392,"v":0.955},{"s":"g3","w":1400,"v":0.953},{"s":"g3","w":1412,"v":0.948},{"s":"g3","w":1425,"v":0.942},{"s":"g3","w":1448,"v":0.95},{"s":"g3","w":1465,"v":0.945},{"s":"g3","w":1478,"v":0.975},{"s":"g3","w":1500,"v":0.985},{"s":"g3","w":1560,"v":0.996},{"s":"g3","w":1610,"v":1.002},{"s":"g3","w":1668,"v":0.998},{"s":"g3","w":1692,"v":0.97},{"s":"g3","w":1706,"v":0.87},{"s":"g3","w":1716,"v":0.772},{"s":"g3","w":1726,"v":0.875},{"s":"g3","w":1735,"v":0.925},{"s":"g3","w":1745,"v":0.93},{"s":"g3","w":1760,"v":0.955},
{"s":"g4","w":1320,"v":0.93},{"s":"g4","w":1333,"v":0.94},{"s":"g4","w":1350,"v":0.925},{"s":"g4","w":1365,"v":0.93},{"s":"g4","w":1380,"v":0.94},{"s":"g4","w":1392,"v":0.95},{"s":"g4","w":1400,"v":0.95},{"s":"g4","w":1412,"v":0.95},{"s":"g4","w":1425,"v":0.93},{"s":"g4","w":1448,"v":0.94},{"s":"g4","w":1465,"v":0.945},{"s":"g4","w":1478,"v":0.97},{"s":"g4","w":1500,"v":0.98},{"s":"g4","w":1560,"v":0.993},{"s":"g4","w":1610,"v":1},{"s":"g4","w":1668,"v":0.992},{"s":"g4","w":1692,"v":0.96},{"s":"g4","w":1706,"v":0.868},{"s":"g4","w":1716,"v":0.77},{"s":"g4","w":1726,"v":0.878},{"s":"g4","w":1735,"v":0.94},{"s":"g4","w":1745,"v":0.945},{"s":"g4","w":1760,"v":0.965}],
"cosMain":[
{"s":"End Stage 1","w":1320,"v":-0.797},{"s":"End Stage 1","w":1324.4,"v":-0.78},{"s":"End Stage 1","w":1331,"v":-0.774},{"s":"End Stage 1","w":1342,"v":-0.768},{"s":"End Stage 1","w":1352,"v":-0.762},{"s":"End Stage 1","w":1357,"v":-0.766},{"s":"End Stage 1","w":1364,"v":-0.787},{"s":"End Stage 1","w":1372.5,"v":-0.798},{"s":"End Stage 1","w":1381,"v":-0.8},{"s":"End Stage 1","w":1393,"v":-0.79},{"s":"End Stage 1","w":1405,"v":-0.787},{"s":"End Stage 1","w":1417,"v":-0.793},{"s":"End Stage 1","w":1431,"v":-0.793},{"s":"End Stage 1","w":1441,"v":-0.797},{"s":"End Stage 1","w":1457,"v":-0.79},{"s":"End Stage 1","w":1469,"v":-0.79},{"s":"End Stage 1","w":1481,"v":-0.792},{"s":"End Stage 1","w":1493,"v":-0.781},{"s":"End Stage 1","w":1508,"v":-0.784},{"s":"End Stage 1","w":1524,"v":-0.781},{"s":"End Stage 1","w":1537.5,"v":-0.772},{"s":"End Stage 1","w":1555,"v":-0.764},{"s":"End Stage 1","w":1572,"v":-0.757},{"s":"End Stage 1","w":1593,"v":-0.7534},{"s":"End Stage 1","w":1610,"v":-0.744},{"s":"End Stage 1","w":1637,"v":-0.73},{"s":"End Stage 1","w":1651,"v":-0.7245},{"s":"End Stage 1","w":1666,"v":-0.718},{"s":"End Stage 1","w":1678,"v":-0.695},{"s":"End Stage 1","w":1689,"v":-0.676},{"s":"End Stage 1","w":1695.5,"v":-0.647},{"s":"End Stage 1","w":1700.7,"v":-0.63},{"s":"End Stage 1","w":1705,"v":-0.629},{"s":"End Stage 1","w":1709,"v":-0.644},{"s":"End Stage 1","w":1714,"v":-0.691},{"s":"End Stage 1","w":1719.5,"v":-0.745},{"s":"End Stage 1","w":1723,"v":-0.772},{"s":"End Stage 1","w":1726.4,"v":-0.781},{"s":"End Stage 1","w":1730,"v":-0.78},{"s":"End Stage 1","w":1735,"v":-0.771},{"s":"End Stage 1","w":1740,"v":-0.778},{"s":"End Stage 1","w":1745,"v":-0.793},{"s":"End Stage 1","w":1750,"v":-0.796},{"s":"End Stage 1","w":1760,"v":-0.792},
{"s":"End Stage 2","w":1320,"v":-0.855},{"s":"End Stage 2","w":1326,"v":-0.84},{"s":"End Stage 2","w":1338,"v":-0.838},{"s":"End Stage 2","w":1352,"v":-0.836},{"s":"End Stage 2","w":1366,"v":-0.836},{"s":"End Stage 2","w":1383,"v":-0.832},{"s":"End Stage 2","w":1393,"v":-0.824},{"s":"End Stage 2","w":1405,"v":-0.8215},{"s":"End Stage 2","w":1415.5,"v":-0.829},{"s":"End Stage 2","w":1427.5,"v":-0.829},{"s":"End Stage 2","w":1445,"v":-0.83},{"s":"End Stage 2","w":1457,"v":-0.82},{"s":"End Stage 2","w":1469,"v":-0.827},{"s":"End Stage 2","w":1479,"v":-0.8257},{"s":"End Stage 2","w":1488,"v":-0.8185},{"s":"End Stage 2","w":1503,"v":-0.8155},{"s":"End Stage 2","w":1520,"v":-0.8155},{"s":"End Stage 2","w":1537.5,"v":-0.806},{"s":"End Stage 2","w":1558,"v":-0.796},{"s":"End Stage 2","w":1576,"v":-0.789},{"s":"End Stage 2","w":1594.5,"v":-0.784},{"s":"End Stage 2","w":1610,"v":-0.772},{"s":"End Stage 2","w":1627,"v":-0.764},{"s":"End Stage 2","w":1644,"v":-0.756},{"s":"End Stage 2","w":1668,"v":-0.747},{"s":"End Stage 2","w":1677,"v":-0.726},{"s":"End Stage 2","w":1689,"v":-0.7},{"s":"End Stage 2","w":1695.5,"v":-0.667},{"s":"End Stage 2","w":1700.7,"v":-0.648},{"s":"End Stage 2","w":1705,"v":-0.645},{"s":"End Stage 2","w":1709,"v":-0.664},{"s":"End Stage 2","w":1714,"v":-0.727},{"s":"End Stage 2","w":1719.5,"v":-0.799},{"s":"End Stage 2","w":1722,"v":-0.829},{"s":"End Stage 2","w":1725.7,"v":-0.835},{"s":"End Stage 2","w":1730,"v":-0.829},{"s":"End Stage 2","w":1738,"v":-0.811},{"s":"End Stage 2","w":1748.6,"v":-0.803},{"s":"End Stage 2","w":1760,"v":-0.8},
{"s":"Stage 3","w":1320,"v":-0.828},{"s":"Stage 3","w":1326,"v":-0.836},{"s":"Stage 3","w":1332,"v":-0.85},{"s":"Stage 3","w":1340,"v":-0.841},{"s":"Stage 3","w":1348,"v":-0.833},{"s":"Stage 3","w":1359,"v":-0.845},{"s":"Stage 3","w":1366,"v":-0.8436},{"s":"Stage 3","w":1383,"v":-0.8346},{"s":"Stage 3","w":1393,"v":-0.827},{"s":"Stage 3","w":1405,"v":-0.8257},{"s":"Stage 3","w":1414,"v":-0.829},{"s":"Stage 3","w":1426,"v":-0.811},{"s":"Stage 3","w":1433,"v":-0.823},{"s":"Stage 3","w":1441,"v":-0.8466},{"s":"Stage 3","w":1451.5,"v":-0.842},{"s":"Stage 3","w":1462,"v":-0.8346},{"s":"Stage 3","w":1474,"v":-0.836},{"s":"Stage 3","w":1486,"v":-0.82},{"s":"Stage 3","w":1503,"v":-0.8155},{"s":"Stage 3","w":1520,"v":-0.8167},{"s":"Stage 3","w":1537.5,"v":-0.806},{"s":"Stage 3","w":1558,"v":-0.796},{"s":"Stage 3","w":1576,"v":-0.788},{"s":"Stage 3","w":1594.5,"v":-0.784},{"s":"Stage 3","w":1610,"v":-0.774},{"s":"Stage 3","w":1627,"v":-0.764},{"s":"Stage 3","w":1644,"v":-0.756},{"s":"Stage 3","w":1668,"v":-0.748},{"s":"Stage 3","w":1677,"v":-0.729},{"s":"Stage 3","w":1682.5,"v":-0.7236},{"s":"Stage 3","w":1690.4,"v":-0.736},{"s":"Stage 3","w":1697,"v":-0.757},{"s":"Stage 3","w":1702.3,"v":-0.793},{"s":"Stage 3","w":1709,"v":-0.82},{"s":"Stage 3","w":1716.8,"v":-0.8275},{"s":"Stage 3","w":1723,"v":-0.82},{"s":"Stage 3","w":1730,"v":-0.805},{"s":"Stage 3","w":1738,"v":-0.793},{"s":"Stage 3","w":1746,"v":-0.786},{"s":"Stage 3","w":1760,"v":-0.787}],
"cosGray":[
{"s":"g1","w":1320,"v":-0.81},{"s":"g1","w":1327,"v":-0.8},{"s":"g1","w":1340,"v":-0.79},{"s":"g1","w":1352,"v":-0.783},{"s":"g1","w":1364,"v":-0.805},{"s":"g1","w":1380,"v":-0.815},{"s":"g1","w":1405,"v":-0.8},{"s":"g1","w":1430,"v":-0.808},{"s":"g1","w":1457,"v":-0.802},{"s":"g1","w":1480,"v":-0.805},{"s":"g1","w":1495,"v":-0.795},{"s":"g1","w":1510,"v":-0.797},{"s":"g1","w":1540,"v":-0.782},{"s":"g1","w":1575,"v":-0.768},{"s":"g1","w":1600,"v":-0.762},{"s":"g1","w":1640,"v":-0.738},{"s":"g1","w":1668,"v":-0.73},{"s":"g1","w":1690,"v":-0.69},{"s":"g1","w":1703,"v":-0.645},{"s":"g1","w":1712,"v":-0.68},{"s":"g1","w":1722,"v":-0.8},{"s":"g1","w":1732,"v":-0.82},{"s":"g1","w":1745,"v":-0.8},{"s":"g1","w":1760,"v":-0.8},
{"s":"g2","w":1320,"v":-0.825},{"s":"g2","w":1330,"v":-0.822},{"s":"g2","w":1352,"v":-0.815},{"s":"g2","w":1365,"v":-0.822},{"s":"g2","w":1382,"v":-0.826},{"s":"g2","w":1405,"v":-0.812},{"s":"g2","w":1430,"v":-0.822},{"s":"g2","w":1457,"v":-0.812},{"s":"g2","w":1480,"v":-0.82},{"s":"g2","w":1495,"v":-0.81},{"s":"g2","w":1520,"v":-0.808},{"s":"g2","w":1560,"v":-0.79},{"s":"g2","w":1600,"v":-0.777},{"s":"g2","w":1640,"v":-0.752},{"s":"g2","w":1668,"v":-0.74},{"s":"g2","w":1690,"v":-0.695},{"s":"g2","w":1703,"v":-0.652},{"s":"g2","w":1714,"v":-0.72},{"s":"g2","w":1722,"v":-0.815},{"s":"g2","w":1733,"v":-0.822},{"s":"g2","w":1748,"v":-0.81},{"s":"g2","w":1760,"v":-0.805},
{"s":"g3","w":1320,"v":-0.84},{"s":"g3","w":1335,"v":-0.835},{"s":"g3","w":1352,"v":-0.828},{"s":"g3","w":1365,"v":-0.833},{"s":"g3","w":1383,"v":-0.83},{"s":"g3","w":1405,"v":-0.82},{"s":"g3","w":1430,"v":-0.826},{"s":"g3","w":1457,"v":-0.818},{"s":"g3","w":1480,"v":-0.825},{"s":"g3","w":1495,"v":-0.815},{"s":"g3","w":1520,"v":-0.813},{"s":"g3","w":1560,"v":-0.794},{"s":"g3","w":1600,"v":-0.78},{"s":"g3","w":1640,"v":-0.755},{"s":"g3","w":1668,"v":-0.745},{"s":"g3","w":1690,"v":-0.698},{"s":"g3","w":1703,"v":-0.66},{"s":"g3","w":1714,"v":-0.74},{"s":"g3","w":1722,"v":-0.825},{"s":"g3","w":1733,"v":-0.825},{"s":"g3","w":1748,"v":-0.815},{"s":"g3","w":1760,"v":-0.81}]
},
"vconcat":[
{"width":429,"height":154,"title":{"text":"Spectro-Polarimetric Overview Scan","fontSize":22.5,"fontWeight":"bold","color":"#000","anchor":"middle","offset":6},
"view":{"strokeWidth":1.5},
"resolve":{"scale":{"color":"independent"}},
"layer":[
{"data":{"name":"heat"},"transform":[{"lookup":"w","from":{"data":{"name":"cols"},"key":"w","fields":["w2"]}},{"lookup":"t","from":{"data":{"name":"rows"},"key":"t","fields":["t2"]}}],
"mark":{"type":"rect"},
"encoding":{"x":{"field":"w","type":"quantitative","scale":{"domain":[1320,1760],"nice":false,"zero":false},"axis":{"labels":false,"ticks":false,"title":null,"minExtent":20.5}},"x2":{"field":"w2"},"y":{"field":"t","type":"quantitative","scale":{"domain":[0.2,32.3],"nice":false,"zero":false},"axis":{"values":[10,20,30],"ticks":false,"title":"Time [s]","titleFontSize":23.5,"titlePadding":7}},"y2":{"field":"t2"},
"color":{"field":"v","type":"quantitative","scale":{"domain":[0.793,0.8176,0.8669,0.9161,0.9654,0.99],"range":["#00008f","#0000ff","#00ffff","#ffff00","#ff0000","#800000"],"clamp":true},"legend":{"title":null,"orient":"right","offset":11,"padding":0,"values":[0.8,0.85,0.9,0.95],"format":".2f","gradientLength":150,"gradientThickness":22,"gradientStrokeColor":"#333","gradientStrokeWidth":3,"labelFontSize":20.5,"labelColor":"#333","labelOverlap":false,"labelOffset":9}}}},
{"data":{"name":"notes"},"mark":{"type":"text","color":"#fff","fontSize":20.5},"encoding":{"x":{"field":"w","type":"quantitative"},"y":{"field":"t","type":"quantitative"},"text":{"field":"n"}}},
{"data":{"name":"barTitle"},"mark":{"type":"text","color":"#333","fontSize":20.5,"angle":270,"align":"center","baseline":"middle"},"encoding":{"x":{"field":"w","type":"quantitative"},"y":{"field":"t","type":"quantitative"},"text":{"field":"n"}}},
{"data":{"name":"arrows"},"mark":{"type":"rule","strokeWidth":2.5},"encoding":{"x":{"field":"w","type":"quantitative"},"x2":{"field":"w2"},"y":{"field":"t","type":"quantitative"},"color":{"field":"s","type":"nominal","scale":{"domain":["Stage 3","End Stage 2","End Stage 1"],"range":["#000000","#e00000","#0000ff"]},"legend":null}}},
{"data":{"name":"arrows"},"mark":{"type":"point","shape":"triangle-right","filled":true,"size":55,"opacity":1},"encoding":{"x":{"field":"w2","type":"quantitative"},"y":{"field":"t","type":"quantitative"},"color":{"field":"s","type":"nominal","scale":{"domain":["Stage 3","End Stage 2","End Stage 1"],"range":["#000000","#e00000","#0000ff"]},"legend":null}}}
]},
{"width":429,"height":153,
"resolve":{"axis":{"x":"independent","y":"independent"}},
"layer":[
{"data":{"name":"psiGray"},"mark":{"type":"line","stroke":"#cccccc","strokeWidth":1,"interpolate":"monotone"},"encoding":{"x":{"field":"w","type":"quantitative","scale":{"domain":[1320,1760],"nice":false,"zero":false},"axis":{"orient":"top","values":[1400,1500,1600,1700],"labels":false,"title":null}},"y":{"field":"v","type":"quantitative","scale":{"domain":[0.74,1.03],"nice":false,"zero":false},"axis":{"orient":"right","values":[0.8,0.9,1],"labels":false,"title":null}},"detail":{"field":"s"}}},
{"data":{"name":"psiMain"},"mark":{"type":"line","strokeWidth":3,"interpolate":"monotone"},"encoding":{"x":{"field":"w","type":"quantitative","axis":{"orient":"bottom","values":[1400,1500,1600,1700],"labels":false,"title":null}},"y":{"field":"v","type":"quantitative","axis":{"orient":"left","values":[0.8,0.9,1],"format":".1f","title":"tan Ψ","titleFontSize":21.5,"titlePadding":15}},"color":{"field":"s","type":"nominal","scale":{"domain":["Stage 3","End Stage 2","End Stage 1"],"range":["#000000","#e00000","#0000ff"]},"legend":null}}},
{"data":{"name":"keys"},"mark":{"type":"text","align":"left","fontSize":20.5},"encoding":{"x":{"field":"w","type":"quantitative","axis":null},"y":{"field":"v","type":"quantitative","axis":null},"text":{"field":"s"},"color":{"field":"s","type":"nominal","legend":null}}}
]},
{"width":429,"height":153,
"resolve":{"axis":{"x":"independent","y":"independent"}},
"layer":[
{"data":{"name":"cosGray"},"mark":{"type":"line","stroke":"#cccccc","strokeWidth":1,"interpolate":"monotone"},"encoding":{"x":{"field":"w","type":"quantitative","scale":{"domain":[1320,1760],"nice":false,"zero":false},"axis":{"orient":"top","values":[1400,1500,1600,1700],"labels":false,"title":null}},"y":{"field":"v","type":"quantitative","scale":{"domain":[-0.878,-0.6],"nice":false,"zero":false},"axis":{"orient":"right","values":[-0.8,-0.7,-0.6],"labels":false,"title":null}},"detail":{"field":"s"}}},
{"data":{"name":"cosMain"},"mark":{"type":"line","strokeWidth":3,"interpolate":"monotone"},"encoding":{"x":{"field":"w","type":"quantitative","axis":{"orient":"bottom","values":[1400,1500,1600,1700],"format":"d","title":"Wavenumber [cm⁻¹]","titleFontSize":23.4,"titlePadding":13,"labelPadding":18}},"y":{"field":"v","type":"quantitative","axis":{"orient":"left","values":[-0.8,-0.7,-0.6],"format":".1f","title":"cos Δ","titleFontSize":23,"titlePadding":12.5}},"color":{"field":"s","type":"nominal","scale":{"domain":["Stage 3","End Stage 2","End Stage 1"],"range":["#000000","#e00000","#0000ff"]},"legend":null}}}
]}
]}
